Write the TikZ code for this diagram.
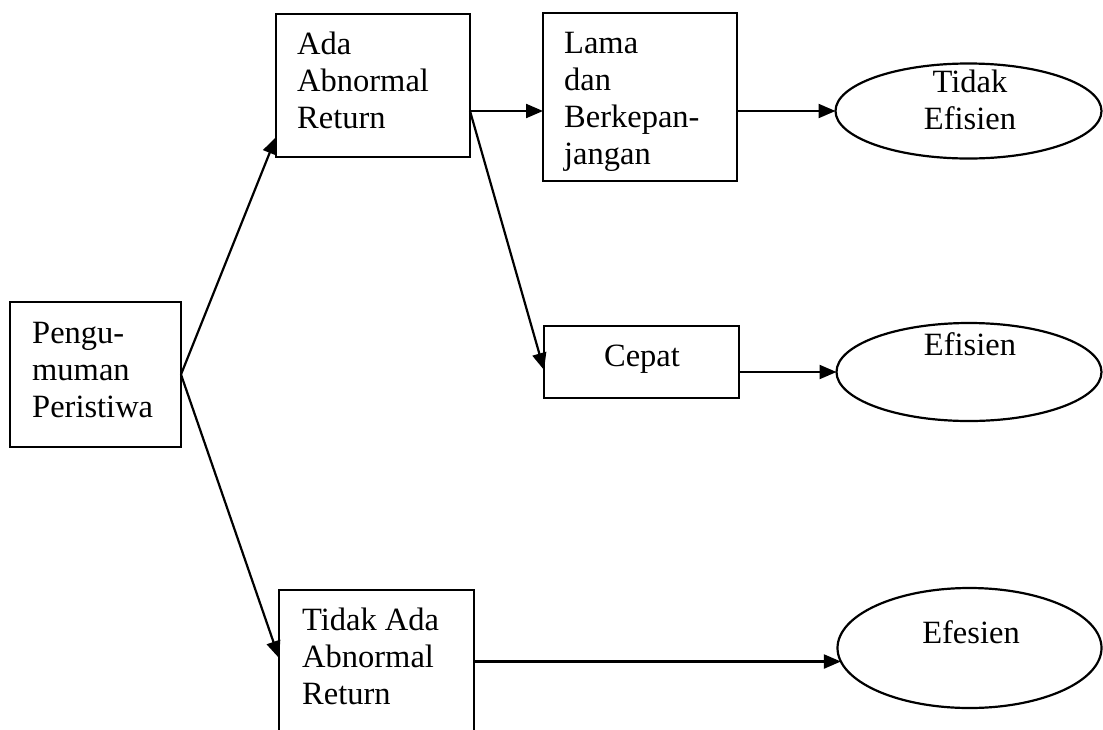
\documentclass[tikz,border=0pt]{standalone}
\usepackage{fontspec}
\setmainfont{Liberation Serif}
\usetikzlibrary{arrows.meta,shapes.geometric}
\newcommand\txtL[1]{\vtop{\halign{##\hfil\cr#1\crcr}}}
\newcommand\txtC[1]{\vtop{\halign{\hfil##\hfil\cr#1\crcr}}}
\begin{document}
\begin{tikzpicture}[x=1pt,y=-1pt,
 box/.style={draw,line width=2.2pt,rectangle,anchor=north west,inner sep=0pt,outer sep=0pt},
 oval/.style={draw,line width=2.2pt,ellipse,inner sep=0pt,outer sep=0pt},
 lbl/.style={inner sep=0pt,font=\fontsize{32.5pt}{37pt}\selectfont},
 arr/.style={line width=2.2pt,-{Triangle[length=17pt,width=14pt]}}]
\clip (0,0) rectangle (1103,729);
\fill[white] (0,0) rectangle (1103,729);
% boxes
\node[box,minimum width=171pt,minimum height=145pt] (peng) at (10,302) {};
\node[box,minimum width=194pt,minimum height=143pt] (ada) at (276,14) {};
\node[box,minimum width=194pt,minimum height=168pt] (lama) at (543,13) {};
\node[box,minimum width=195pt,minimum height=72pt] (cep) at (544,326) {};
\node[box,minimum width=195pt,minimum height=170pt] (tid) at (279,590) {};
% ellipses
\node[oval,minimum width=266pt,minimum height=95pt] (e1) at (968.5,111) {};
\node[oval,minimum width=265pt,minimum height=98pt] (e2) at (969,372) {};
\node[oval,minimum width=264pt,minimum height=120pt] (e3) at (969.5,648) {};
% texts
\node[lbl,anchor=base west] (tpeng) at (32,343) {\txtL{Pengu-\cr muman\cr Peristiwa}};
\node[lbl,anchor=base west] (tada) at (297,54) {\txtL{Ada\cr Abnormal\cr Return}};
\node[lbl,anchor=base west] (tlama) at (564,53) {\txtL{Lama\cr dan\cr Berkepan-\cr jangan}};
\node[lbl,anchor=base] (tcep) at (642,366) {Cepat};
\node[lbl,anchor=base west] (ttid) at (302,630) {\txtL{Tidak Ada\cr Abnormal\cr Return}};
\node[lbl,anchor=base] (te1) at (970,92) {\txtC{Tidak\cr Efisien}};
\node[lbl,anchor=base] (te2) at (970,355) {Efisien};
\node[lbl,anchor=base] (te3) at (971,643) {Efesien};
% connectors
\draw[arr] (peng.east) -- ([yshift=20pt]ada.south west);
\draw[arr] (peng.east) -- ([yshift=-68pt]tid.north west);
\coordinate (a1) at ([yshift=-25.5pt]ada.east);
\draw[arr] (a1) -- (a1 -| lama.west);
\draw[arr] (a1) -- ([yshift=-8pt]cep.west);
\draw[arr] (lama.east |- e1.west) -- (e1.west);
\draw[arr] (cep.east |- e2.west) -- (e2.west);
\draw[arr] (tid.east |- e3.186) -- (e3.186);
\end{tikzpicture}
\end{document}
